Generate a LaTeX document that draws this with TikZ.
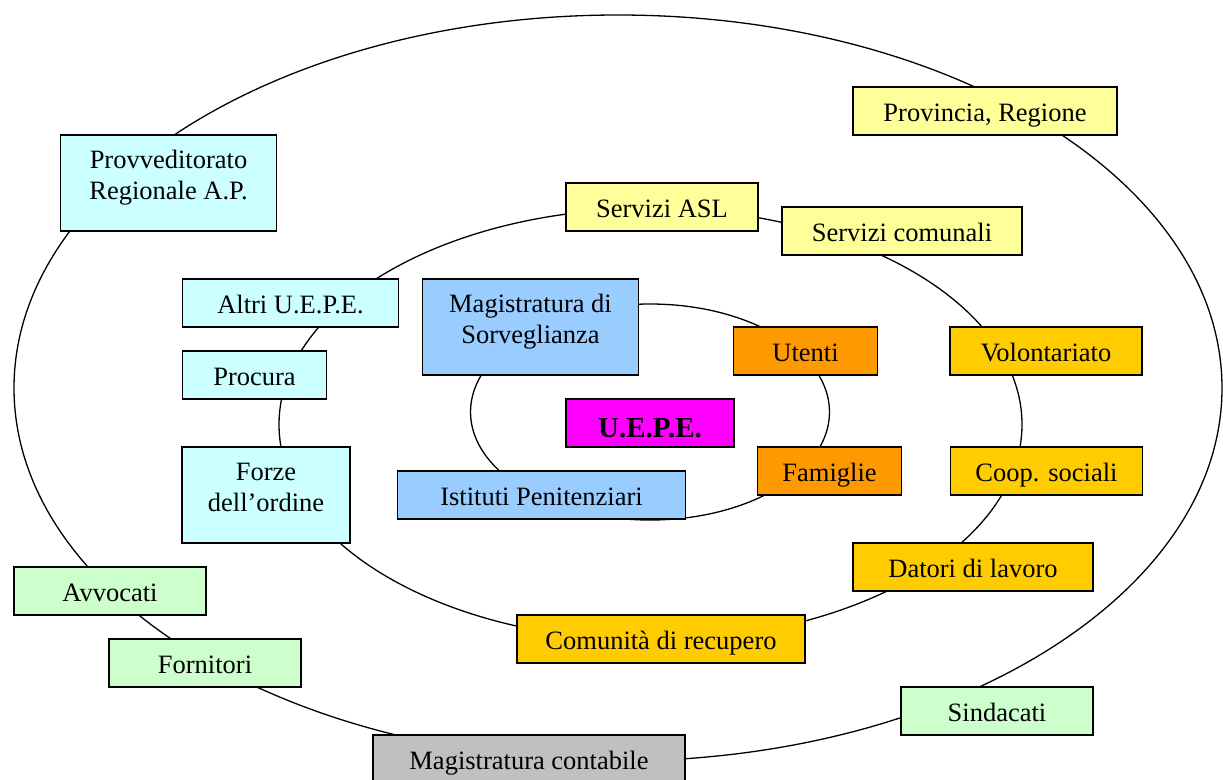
\documentclass[tikz,border=0pt]{standalone}
\usepackage{fontspec}
\setmainfont{Liberation Serif}
\definecolor{cyanbox}{HTML}{CCFFFF}
\definecolor{bluebox}{HTML}{99CCFF}
\definecolor{magbox}{HTML}{FF00FF}
\definecolor{orangebox}{HTML}{FF9900}
\definecolor{goldbox}{HTML}{FFCC00}
\definecolor{yellowbox}{HTML}{FFFF99}
\definecolor{greenbox}{HTML}{CCFFCC}
\definecolor{graybox}{HTML}{C0C0C0}
\newcommand{\twolines}[2]{#1\strut\\#2\rule[-19pt]{0pt}{40pt}}
\tikzset{
  ring/.style={draw=black, line width=1.3pt},
  boxbase/.style={draw=black, line width=1.6pt, rectangle, inner sep=0pt, align=center,
    font=\fontsize{26.5}{30}\selectfont, minimum height=48pt},
  onebox/.style={boxbase, text height=20pt, text depth=0pt},
  twobox/.style={boxbase, minimum height=96pt},
  boldbox/.style={boxbase, font=\fontsize{29}{32}\selectfont\bfseries, text height=28pt, text depth=0pt},
}
\begin{document}
\begin{tikzpicture}[x=1pt, y=-1pt]
\useasboundingbox (0,0) rectangle (1223,779);
% rings
\draw[ring] (618,388) ellipse [x radius=604pt, y radius=373pt];
\draw[ring] (650.5,424.5) ellipse [x radius=371.5pt, y radius=216pt];
\draw[ring] (650,412) ellipse [x radius=179.5pt, y radius=108pt];
% boxes
\node[twobox, fill=cyanbox, minimum width=216pt] (prov) at (168.5,183) {\twolines{Provveditorato}{Regionale A.P.}};
\node[onebox, fill=yellowbox, minimum width=264pt] (provreg) at (985,111) {Provincia, Regione};
\node[onebox, fill=yellowbox, minimum width=192pt] (asl) at (662,207) {Servizi ASL};
\node[onebox, fill=yellowbox, minimum width=240pt] (comunali) at (902,231) {Servizi comunali};
\node[onebox, fill=cyanbox, minimum width=216pt] (altri) at (290.5,303) {Altri U.E.P.E.};
\node[twobox, fill=bluebox, minimum width=216pt] (magsorv) at (530.5,327) {\twolines{Magistratura di}{Sorveglianza}};
\node[onebox, fill=orangebox, minimum width=144pt] (utenti) at (805.5,351) {Utenti};
\node[onebox, fill=goldbox, minimum width=192pt] (volont) at (1046,351) {Volontariato};
\node[onebox, fill=cyanbox, minimum width=144pt] (procura) at (254.5,375) {Procura};
\node[boldbox, fill=magbox, minimum width=168pt] (uepe) at (650,423) {U.E.P.E.};
\node[twobox, fill=cyanbox, minimum width=168pt] (forze) at (266,495) {\twolines{Forze}{dell’ordine}};
\node[onebox, fill=bluebox, minimum width=288pt] (istituti) at (541.5,495) {Istituti Penitenziari};
\node[onebox, fill=orangebox, minimum width=144pt] (famiglie) at (829.5,471) {Famiglie};
\node[onebox, fill=goldbox, minimum width=192pt] (coop) at (1046.5,471) {Coop. sociali};
\node[onebox, fill=goldbox, minimum width=240pt] (datori) at (973,567) {Datori di lavoro};
\node[onebox, fill=greenbox, minimum width=192pt] (avvocati) at (110,591) {Avvocati};
\node[onebox, fill=goldbox, minimum width=288pt] (comunita) at (661,639) {Comunità di recupero};
\node[onebox, fill=greenbox, minimum width=192pt] (fornitori) at (205,663) {Fornitori};
\node[onebox, fill=greenbox, minimum width=192pt] (sindacati) at (997,711) {Sindacati};
\node[onebox, fill=graybox, minimum width=312pt] (magcont) at (529,759) {Magistratura contabile};
\end{tikzpicture}
\end{document}
